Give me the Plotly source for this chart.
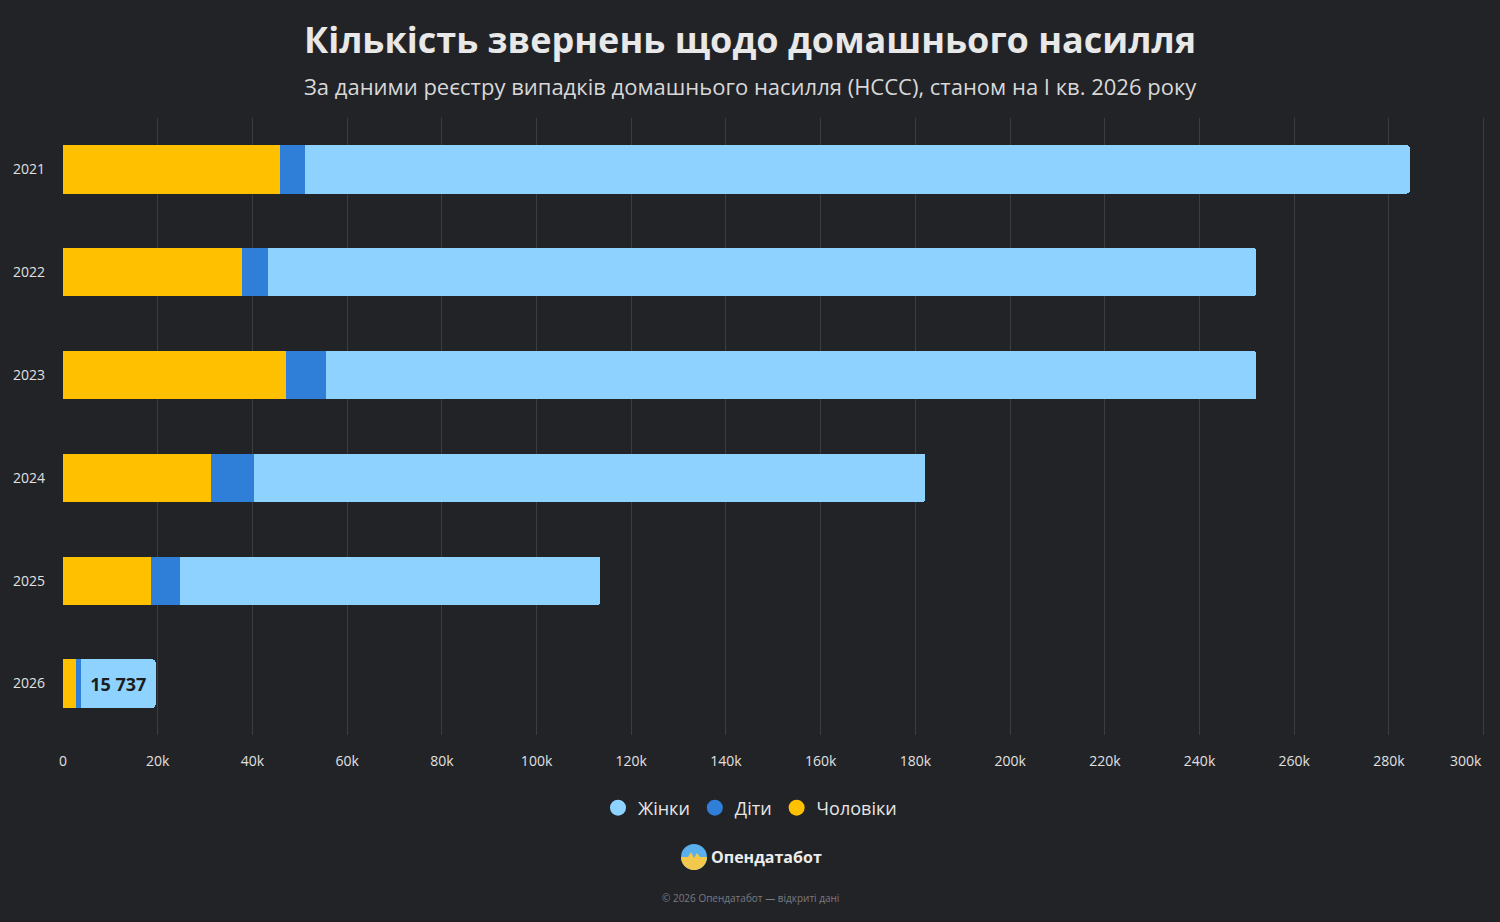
import math
import plotly.graph_objects as go

years = ["2021", "2022", "2023", "2024", "2025", "2026"]
men = [45800, 37800, 47000, 31200, 18600, 2700]
children = [5300, 5500, 8600, 9100, 6100, 1100]
women = [233300, 208600, 196400, 141800, 88800, 15737]

x_ticks = list(range(0, 300001, 20000))
x_tick_labels = ["0"] + [f"{v // 1000}k" for v in x_ticks[1:]]

C_MEN = "#FFC000"
C_CHILD = "#2F7FD8"
C_WOMEN = "#8ED3FF"
BG = "#222327"
FONT = "Open Sans"

women_text = ["" for _ in years]
women_text[-1] = f"{women[-1]:,}".replace(",", " ")

# last tick label is drawn right-aligned to its gridline (as in the reference)
axis_labels = x_tick_labels[:-1] + [""]

fig = go.Figure()
fig.add_trace(go.Bar(y=years, x=men, orientation="h", name="Чоловіки",
                     marker=dict(color=C_MEN, line=dict(width=0)), showlegend=False))
fig.add_trace(go.Bar(y=years, x=children, orientation="h", name="Діти",
                     marker=dict(color=C_CHILD, line=dict(width=0)), showlegend=False))
fig.add_trace(go.Bar(y=years, x=women, orientation="h", name="Жінки",
                     marker=dict(color=C_WOMEN, line=dict(width=0)), showlegend=False,
                     text=women_text, textposition="inside", insidetextanchor="middle",
                     textfont=dict(family=FONT, size=18, color="#1b1c20", weight="bold")))

for name, col in [("Жінки", C_WOMEN), ("Діти", C_CHILD), ("Чоловіки", C_MEN)]:
    fig.add_trace(go.Scatter(x=[None], y=[None], mode="markers", name=name,
                             marker=dict(symbol="circle", size=19, color=col)))

fig.update_layout(
    width=1500, height=922,
    paper_bgcolor=BG, plot_bgcolor=BG,
    barmode="stack", bargap=0.53, barcornerradius=3,
    margin=dict(l=63, r=13, t=118, b=187, autoexpand=False),
    font=dict(family=FONT, color="#e6e6e6"),
    title=dict(text="<b>Кількість звернень щодо домашнього насилля</b>",
               x=0.5, xref="container", xanchor="center",
               y=1 - 40 / 922, yref="container", yanchor="middle",
               font=dict(family=FONT, size=36, color="#e8e8e8")),
    legend=dict(orientation="h", x=0.5, xref="container", xanchor="center",
                y=1 - 808 / 922, yref="container", yanchor="middle",
                traceorder="normal",
                font=dict(family=FONT, size=18, color="#e6e6e6"),
                itemsizing="trace", itemwidth=30, bgcolor="rgba(0,0,0,0)"),
    xaxis=dict(range=[0, 300700], tickvals=x_ticks, ticktext=axis_labels, automargin=False,
               showgrid=True, gridcolor="#3c3d42", gridwidth=1, zeroline=False,
               showline=False, ticks="", ticklabelstandoff=16,
               tickfont=dict(family=FONT, size=14, color="#e0e0e0")),
    yaxis=dict(categoryorder="array", categoryarray=years, autorange="reversed",
               automargin=False,
               showgrid=False, zeroline=False, showline=False, ticks="",
               ticklabelstandoff=17,
               tickfont=dict(family=FONT, size=14, color="#e0e0e0")),
)

fig.add_annotation(text=x_tick_labels[-1], xref="x", yref="paper", x=x_ticks[-1], y=(735 - 760) / 617,
                   xanchor="right", yanchor="middle", showarrow=False,
                   font=dict(family=FONT, size=14, color="#e0e0e0"))

fig.add_annotation(text="За даними реєстру випадків домашнього насилля (НССС), станом на I кв. 2026 року",
                   xref="paper", yref="paper", x=(750 - 63) / 1424, y=(735 - 86) / 617,
                   xanchor="center", yanchor="middle", showarrow=False,
                   font=dict(family=FONT, size=22, color="#d8d8d8"))

fig.add_annotation(text="<b>Опендатабот</b>", xref="paper", yref="paper",
                   x=(766 - 63) / 1424, y=(735 - 857) / 617, xanchor="center", yanchor="middle",
                   showarrow=False, font=dict(family=FONT, size=16, color="#ececec"))
fig.add_annotation(text="© 2026 Опендатабот — відкриті дані", xref="paper", yref="paper",
                   x=(750 - 63) / 1424, y=(735 - 898) / 617, xanchor="center", yanchor="middle",
                   showarrow=False, font=dict(family=FONT, size=10, color="#7a7b80"))

# logo icon: blue disc with yellow lower half and a small wave
lx = (694 - 63) / 1424
ly = (735 - 857) / 617
R = 13
fig.add_shape(type="circle", xref="paper", yref="paper", xsizemode="pixel", ysizemode="pixel",
              xanchor=lx, yanchor=ly, x0=-R, x1=R, y0=-R, y1=R,
              fillcolor="#5AB0EC", line=dict(width=0), layer="above")
pts = ["M -13 0", "L -6 0", "L -3 5", "L 0 -1", "L 3 4", "L 6 0", "L 13 0"]
for i in range(1, 24):
    a = -math.pi * i / 24
    pts.append(f"L {R * math.cos(a):.2f} {R * math.sin(a):.2f}")
pts.append("Z")
fig.add_shape(type="path", xref="paper", yref="paper", xsizemode="pixel", ysizemode="pixel",
              xanchor=lx, yanchor=ly, path=" ".join(pts),
              fillcolor="#F2C94C", line=dict(width=0), layer="above")

fig.write_html("out.html")
